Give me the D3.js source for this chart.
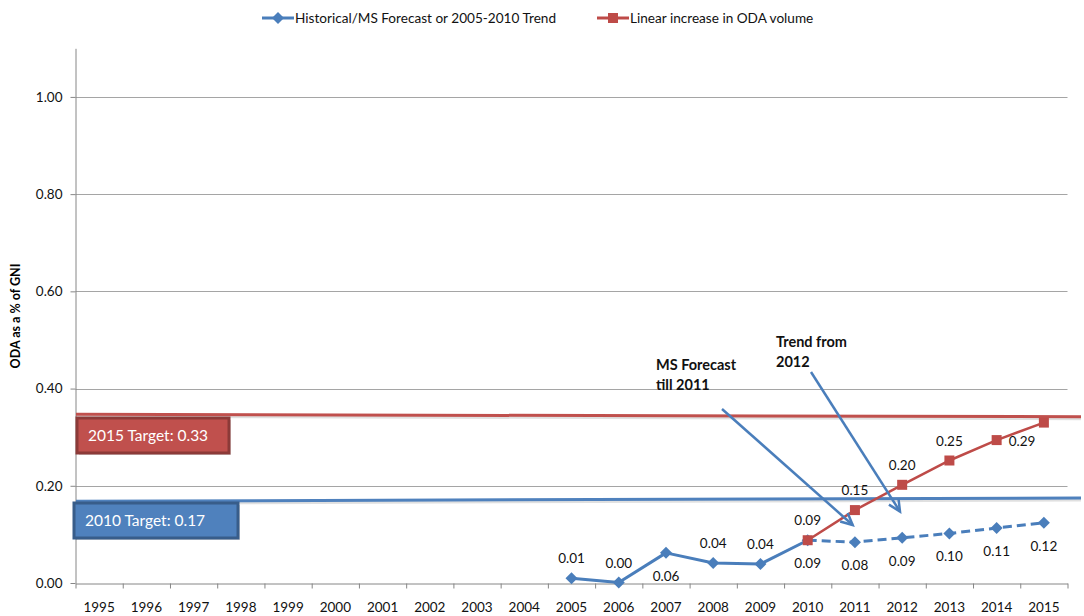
<!DOCTYPE html>
<html>
<head>
<meta charset="utf-8">
<script src="https://cdn.jsdelivr.net/npm/d3@7"></script>
<style>
  html, body { margin: 0; padding: 0; background: #fff; }
  svg { display: block; font-family: Lato, "Open Sans", sans-serif; }
</style>
</head>
<body>
<svg id="chart" width="1084" height="616"></svg>
<script>
// ---------- data ----------
const years = ["1995","1996","1997","1998","1999","2000","2001","2002","2003","2004",
               "2005","2006","2007","2008","2009","2010","2011","2012","2013","2014","2015"];
const yTicks = [0, 0.2, 0.4, 0.6, 0.8, 1.0];

const histYears  = ["2005","2006","2007","2008","2009","2010"];
const histValues = [0.010, 0.001, 0.062, 0.041, 0.039, 0.088];

const trendYears  = ["2010","2011","2012","2013","2014","2015"];
const trendValues = [0.088, 0.084, 0.093, 0.102, 0.113, 0.124];

const linearYears  = ["2010","2011","2012","2013","2014","2015"];
const linearValues = [0.088, 0.150, 0.202, 0.252, 0.294, 0.330];

const seriesNames = ["Historical/MS Forecast or 2005-2010 Trend", "Linear increase in ODA volume"];
const targetLabels = ["2015 Target: 0.33", "2010 Target: 0.17"];
const targetStart  = [0.347, 0.168];   // drawn target line, left end
const targetEnd    = [0.342, 0.175];   // drawn target line, right end
const noteTexts = [["MS Forecast", "till 2011"], ["Trend from", "2012"]];

// label placement (style, separate from data)
const histLabelPos   = ["above","above","below","above","above","below"];
const trendLabelPos  = [null,"below","below","below","below","below"];
const linearLabelPos = ["above","above","above","above","right",null];

// ---------- setup ----------
const W = 1084, H = 616;
const svg = d3.select("#chart");
const blue = "#4A7EBB", red = "#BE4B48";
const fmt = d3.format(".2f");

const x = d3.scaleBand().domain(years).range([75.5, 1067.5]);
const xc = d => x(d) + x.bandwidth() / 2;
const y = d3.scaleLinear().domain([0, 1.1]).range([583, 48.3]);

// gridlines
svg.append("g").selectAll("line").data(yTicks.filter(d => d > 0)).join("line")
  .attr("x1", 75.5).attr("x2", 1067.5)
  .attr("y1", d => Math.round(y(d)) + 0.5).attr("y2", d => Math.round(y(d)) + 0.5)
  .attr("stroke", "#A5A5A5").attr("stroke-width", 1);

// y axis
const yAxis = svg.append("g").attr("transform", "translate(75.5,0)")
  .call(d3.axisLeft(y).tickValues(yTicks).tickFormat(fmt).tickSize(5).tickPadding(8).tickSizeOuter(0));
yAxis.select(".domain").attr("stroke", "#868686");
yAxis.selectAll(".tick line").attr("stroke", "#868686");
yAxis.selectAll(".tick text").attr("font-size", 13.5).attr("fill", "#111").attr("font-family", "Lato");

// x axis: boundary ticks + centered labels
const xEdge = d3.scaleLinear().domain([0, years.length]).range([75.5, 1067.5]);
const xAxisTicks = svg.append("g").attr("transform", "translate(0,583.5)")
  .call(d3.axisBottom(xEdge).tickValues(d3.range(years.length + 1)).tickFormat("").tickSize(5).tickSizeOuter(0));
xAxisTicks.select(".domain").attr("stroke", "#868686");
xAxisTicks.selectAll(".tick line").attr("stroke", "#868686");
const xAxisLabels = svg.append("g").attr("transform", "translate(0,583.5)")
  .call(d3.axisBottom(x).tickSize(0).tickPadding(19));
xAxisLabels.select(".domain").remove();
xAxisLabels.selectAll(".tick text").attr("font-size", 13.5).attr("fill", "#111").attr("font-family", "Lato");

// y axis title
svg.append("text").attr("transform", "translate(20,316) rotate(-90)")
  .attr("text-anchor", "middle").attr("font-size", 12.5).attr("font-weight", "bold")
  .text("ODA as a % of GNI");

// ---------- target lines & boxes ----------
const tColors = [{line: "#C0504D", fill: "#C0504D", stroke: "#8C3A38"},
                 {line: "#4F81BD", fill: "#4F81BD", stroke: "#385D8A"}];
const boxes = [{x: 77, y: 418, w: 152, h: 35}, {x: 74, y: 503, w: 164, h: 35}];
targetLabels.forEach((lab, i) => {
  svg.append("line").attr("x1", 76).attr("x2", 1081)
    .attr("y1", y(targetStart[i]) + 2).attr("y2", y(targetEnd[i]) + 2)
    .attr("stroke", "#000").attr("stroke-opacity", 0.12).attr("stroke-width", 3);
  svg.append("line").attr("x1", 76).attr("x2", 1081)
    .attr("y1", y(targetStart[i])).attr("y2", y(targetEnd[i]))
    .attr("stroke", tColors[i].line).attr("stroke-width", 3);
  const b = boxes[i];
  svg.append("rect").attr("x", b.x + 2).attr("y", b.y + 2).attr("width", b.w).attr("height", b.h)
    .attr("fill", "#000").attr("fill-opacity", 0.15);
  svg.append("rect").attr("x", b.x).attr("y", b.y).attr("width", b.w).attr("height", b.h)
    .attr("fill", tColors[i].fill).attr("stroke", tColors[i].stroke).attr("stroke-width", 3);
  svg.append("text").attr("x", b.x + 11).attr("y", b.y + b.h / 2 + 5.5)
    .attr("fill", "#fff").attr("font-size", 15.5).text(lab);
});

// ---------- series ----------
const line = d3.line().x(d => xc(d[0])).y(d => y(d[1]));
const histPts   = histYears.map((d, i) => [d, histValues[i]]);
const trendPts  = trendYears.map((d, i) => [d, trendValues[i]]);
const linearPts = linearYears.map((d, i) => [d, linearValues[i]]);

svg.append("path").datum(trendPts).attr("d", line).attr("fill", "none")
  .attr("stroke", blue).attr("stroke-width", 3).attr("stroke-dasharray", "9,5");
svg.append("path").datum(histPts).attr("d", line).attr("fill", "none")
  .attr("stroke", blue).attr("stroke-width", 3).attr("stroke-linejoin", "round");

const diamondPath = "M0,-6L6,0L0,6L-6,0Z";
svg.append("g").selectAll("path").data(histPts.concat(trendPts.slice(1))).join("path")
  .attr("d", diamondPath).attr("transform", d => `translate(${xc(d[0])},${y(d[1])})`)
  .attr("fill", blue);

svg.append("path").datum(linearPts).attr("d", line).attr("fill", "none")
  .attr("stroke", red).attr("stroke-width", 2.5);
svg.append("g").selectAll("rect").data(linearPts).join("rect")
  .attr("x", d => xc(d[0]) - 5).attr("y", d => y(d[1]) - 5)
  .attr("width", 10).attr("height", 10).attr("fill", red);

// ---------- data labels ----------
function addLabels(pts, pos) {
  pts.forEach((p, i) => {
    const where = pos[i];
    if (!where) return;
    let lx = xc(p[0]), ly = y(p[1]), anchor = "middle";
    if (where === "above") ly -= 15;
    else if (where === "below") ly += 28;
    else if (where === "right") { lx += 12; ly += 6; anchor = "start"; }
    svg.append("text").attr("x", lx).attr("y", ly).attr("text-anchor", anchor)
      .attr("font-size", 13.5).attr("fill", "#111").text(fmt(p[1]));
  });
}
addLabels(histPts, histLabelPos);
addLabels(trendPts, trendLabelPos);
addLabels(linearPts, linearLabelPos);

// ---------- annotations ----------
const notes = [{tx: 656, ty: 370, from: [722, 409], to: [852.7, 525]},
               {tx: 776, ty: 347, from: [811, 372], to: [900, 511.5]}];
notes.forEach((n, i) => {
  const t = svg.append("text").attr("font-size", 14.5).attr("font-weight", "bold").attr("fill", "#111");
  noteTexts[i].forEach((s, k) => t.append("tspan").attr("x", n.tx).attr("y", n.ty + k * 20).text(s));
  svg.append("line").attr("x1", n.from[0]).attr("y1", n.from[1]).attr("x2", n.to[0]).attr("y2", n.to[1])
    .attr("stroke", blue).attr("stroke-width", 2.5);
  const ang = Math.atan2(n.to[1] - n.from[1], n.to[0] - n.from[0]);
  const L = 13, spread = 0.45;
  const p1 = [n.to[0] - L * Math.cos(ang - spread), n.to[1] - L * Math.sin(ang - spread)];
  const p2 = [n.to[0] - L * Math.cos(ang + spread), n.to[1] - L * Math.sin(ang + spread)];
  svg.append("path").attr("d", `M${p1}L${n.to}L${p2}`).attr("fill", "none")
    .attr("stroke", blue).attr("stroke-width", 2.5).attr("stroke-linejoin", "miter");
});

// ---------- legend ----------
const lg = svg.append("g").attr("transform", "translate(0,18)");
const legendItems = [{x: 262, color: blue, marker: "diamond"}, {x: 597, color: red, marker: "square"}];
legendItems.forEach((it, i) => {
  lg.append("line").attr("x1", it.x).attr("x2", it.x + 32).attr("stroke", it.color).attr("stroke-width", 3);
  if (it.marker === "diamond")
    lg.append("path").attr("d", diamondPath).attr("transform", `translate(${it.x + 16},0)`).attr("fill", it.color);
  else
    lg.append("rect").attr("x", it.x + 11).attr("y", -5).attr("width", 10).attr("height", 10).attr("fill", it.color);
  lg.append("text").attr("x", it.x + 33).attr("y", 5).attr("font-size", 13.6).attr("fill", "#111")
    .text(seriesNames[i]);
});
</script>
</body>
</html>
